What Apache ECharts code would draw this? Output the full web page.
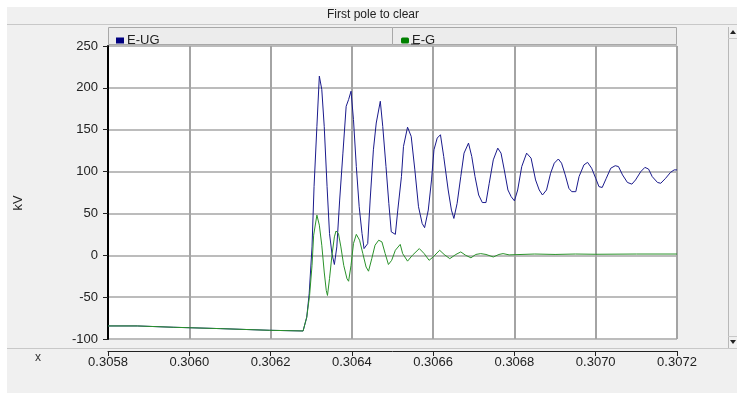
<!DOCTYPE html>
<html>
<head>
<meta charset="utf-8">
<script src="https://cdn.jsdelivr.net/npm/echarts@6/dist/echarts.min.js"></script>
<style>
  html, body { margin: 0; padding: 0; background: #ffffff; }
  #chart { width: 737px; height: 393px; }
</style>
</head>
<body>
<div id="chart"></div>
<script>
    // E-UG (blue) samples, time in s / value in kV
    var ugTime = [0.3058, 0.305872, 0.305874, 0.305962, 0.305964, 0.306076, 0.30608, 0.306197, 0.306201, 0.30628,
        0.306289, 0.306295, 0.306302, 0.306307, 0.306314, 0.30632, 0.306323, 0.306326, 0.306332, 0.306339,
        0.306345, 0.306351, 0.306357, 0.306363, 0.30637, 0.306378, 0.306386, 0.306392, 0.306398, 0.306404,
        0.306411, 0.306418, 0.306425, 0.30643, 0.306439, 0.306445, 0.306453, 0.30646, 0.30647, 0.306476,
        0.306484, 0.306491, 0.306497, 0.306507, 0.306513, 0.306522, 0.306527, 0.306537, 0.306546, 0.306555,
        0.306564, 0.306573, 0.306579, 0.306588, 0.306596, 0.306602, 0.30661, 0.306618, 0.306626, 0.306637,
        0.306645, 0.306651, 0.306659, 0.306668, 0.306676, 0.306687, 0.306695, 0.306703, 0.306712, 0.306721,
        0.30673, 0.306738, 0.306748, 0.306759, 0.306767, 0.306775, 0.306784, 0.306792, 0.3068, 0.306808,
        0.306818, 0.30683, 0.306841, 0.306852, 0.306861, 0.306869, 0.306879, 0.306889, 0.306898, 0.306908,
        0.306916, 0.306925, 0.306934, 0.306941, 0.306951, 0.306959, 0.306971, 0.30698, 0.30699, 0.307,
        0.307008, 0.307016, 0.307026, 0.307037, 0.307048, 0.307056, 0.307066, 0.307078, 0.307089, 0.307098,
        0.307111, 0.307121, 0.30713, 0.307139, 0.307152, 0.30716, 0.307172, 0.307184, 0.307193, 0.3072];
    var ugKv = [-84.4, -84.4, -86, -86, -87.6, -87.6, -89.6, -89.6, -90.4, -90.4,
        -74, -46, 10, 82, 154, 214, 216, 198, 154, 82,
        26, 2, -11, 10, 66, 122, 178, 186, 196, 162,
        106, 58, 26, 8, 14, 66, 126, 158, 184, 154,
        106, 62, 28, 25, 54, 94, 130, 153, 142, 102,
        58, 38, 33, 54, 90, 126, 140, 144, 118, 78,
        54, 44, 62, 94, 122, 134, 118, 94, 72, 63,
        63, 86, 114, 128, 122, 102, 78, 70, 65, 78,
        106, 122, 116, 90, 78, 72, 78, 98, 110, 115,
        110, 96, 80, 76, 76, 94, 108, 111, 104, 92,
        82, 81, 92, 104, 107, 106, 96, 87, 85, 90,
        100, 105, 103, 94, 87, 86, 92, 99, 102, 102];

    // E-G (green) samples
    var gTime = [0.3058, 0.305872, 0.305874, 0.305962, 0.305964, 0.306076, 0.30608, 0.306197, 0.306201, 0.30628,
        0.306289, 0.306296, 0.306302, 0.306306, 0.306314, 0.30632, 0.306326, 0.306332, 0.306337, 0.30634,
        0.306345, 0.306351, 0.306357, 0.306361, 0.306367, 0.306373, 0.30638, 0.306388, 0.306392, 0.306398,
        0.306404, 0.306411, 0.306419, 0.306427, 0.306435, 0.306441, 0.306449, 0.306457, 0.306466, 0.306474,
        0.306482, 0.30649, 0.306498, 0.306507, 0.306519, 0.306525, 0.306537, 0.306549, 0.306566, 0.306578,
        0.30659, 0.3066, 0.306616, 0.306627, 0.306641, 0.306656, 0.306668, 0.30668, 0.306693, 0.306705,
        0.306717, 0.30673, 0.306748, 0.306762, 0.306772, 0.306787, 0.30685, 0.3069, 0.30695, 0.307,
        0.3071, 0.3072];
    var gKv = [-84.4, -84.4, -86, -86, -87.6, -87.6, -89.6, -89.6, -90.4, -90.4,
        -74, -48, -12, 24, 48, 36, 12, -20, -42, -48,
        -28, 0, 22, 29, 26, 10, -12, -28, -31, -12,
        14, 25, 18, 2, -14, -19, -4, 12, 18, 16,
        2, -11, -6, 6, 13, 2, -7, 0, 8, 2,
        -6, -2, 6, 1, -4, 1, 4, 0, -3, 1,
        2, 1, -2, 1, 2, 0.5, 1.5, 1, 1.5, 1.2,
        1.5, 1.5];

    var xTicks = { min: 0.3058, max: 0.3072, step: 0.0002 };
    var yTicks = { min: -100, max: 250, step: 50 };

    function pairs(t, v) {
        var out = [];
        for (var i = 0; i < t.length; i++) { out.push([t[i], v[i]]); }
        return out;
    }

    var chart = echarts.init(document.getElementById('chart'));
    var font = 'Liberation Sans, Arial, sans-serif';

    var option = {
        animation: false,
        backgroundColor: '#ffffff',
        textStyle: { fontFamily: font },
        graphic: [
            // panel background
            { type: 'rect', z: -10, silent: true, shape: { x: 7, y: 7, width: 730, height: 386 }, style: { fill: '#f0f0f0' } },
            { type: 'line', z: -9, shape: { x1: 7, y1: 24.5, x2: 737, y2: 24.5 }, style: { stroke: '#c8c8c8', lineWidth: 1 } },
            { type: 'line', z: -9, shape: { x1: 7, y1: 348.5, x2: 737, y2: 348.5 }, style: { stroke: '#c8c8c8', lineWidth: 1 } },
            { type: 'text', style: { x: 373, y: 15, text: 'First pole to clear', fill: '#222', font: '12px ' + font, textAlign: 'center', textVerticalAlign: 'middle' } },
            // legend bar
            { type: 'rect', z: -8, shape: { x: 108.5, y: 27.5, width: 284, height: 17 }, style: { fill: '#ececec', stroke: '#a8a8a8', lineWidth: 1 } },
            { type: 'rect', z: -8, shape: { x: 392.5, y: 27.5, width: 284, height: 17 }, style: { fill: '#ececec', stroke: '#a8a8a8', lineWidth: 1 } },
            { type: 'line', z: 10, shape: { x1: 411, y1: 44, x2: 419, y2: 44 }, style: { stroke: '#333', lineWidth: 1 } },
            // right scroll bar
            { type: 'line', z: -8, shape: { x1: 728.5, y1: 27, x2: 728.5, y2: 348 }, style: { stroke: '#b8b8b8', lineWidth: 1 } },
            { type: 'line', z: -8, shape: { x1: 728, y1: 38.5, x2: 737, y2: 38.5 }, style: { stroke: '#c8c8c8', lineWidth: 1 } },
            { type: 'line', z: -8, shape: { x1: 728, y1: 336.5, x2: 737, y2: 336.5 }, style: { stroke: '#c8c8c8', lineWidth: 1 } },
            { type: 'polygon', shape: { points: [[733, 30], [736, 34], [730, 34]] }, style: { fill: '#222' } },
            { type: 'polygon', shape: { points: [[730, 340], [736, 340], [733, 344]] }, style: { fill: '#222' } },
            // axis names
            { type: 'text', style: { x: 38, y: 358, text: 'x', fill: '#333', font: '12px ' + font, textAlign: 'center', textVerticalAlign: 'middle' } },
            { type: 'text', x: 18, y: 203, rotation: Math.PI / 2, style: { x: 0, y: 0, text: 'kV', fill: '#222', font: '13px ' + font, textAlign: 'center', textVerticalAlign: 'middle' } }
        ],
        legend: [
            {
                data: ['E-UG'], left: 111, top: 29, itemWidth: 8, itemHeight: 6, icon: 'rect', itemGap: 4,
                textStyle: { fontSize: 13, color: '#222', fontFamily: font, padding: [0, 0, 0, -2] }
            },
            {
                data: ['E-G'], left: 396, top: 29, itemWidth: 8, itemHeight: 6, icon: 'roundRect', itemGap: 4,
                textStyle: { fontSize: 13, color: '#222', fontFamily: font, padding: [0, 0, 0, -2] }
            }
        ],
        grid: {
            left: 108, right: 60, top: 46, bottom: 54,
            show: true, backgroundColor: '#ffffff', borderColor: '#a8a8a8', borderWidth: 1
        },
        xAxis: {
            type: 'value',
            min: xTicks.min, max: xTicks.max, interval: xTicks.step,
            offset: 12,
            axisLine: { show: true, onZero: false, lineStyle: { color: '#222', width: 1 } },
            axisTick: { show: true, length: 5, lineStyle: { color: '#222' } },
            axisLabel: {
                margin: 5, fontSize: 13, color: '#222', fontFamily: font,
                formatter: function (v) { return v.toFixed(4); }
            },
            splitLine: { show: true, lineStyle: { color: '#a4a4a4', width: 2 } }
        },
        yAxis: {
            type: 'value',
            min: yTicks.min, max: yTicks.max, interval: yTicks.step,
            axisLine: { show: true, lineStyle: { color: '#000', width: 2 } },
            axisTick: { show: true, length: 5, lineStyle: { color: '#222' } },
            axisLabel: { margin: 10, fontSize: 13, color: '#222', fontFamily: font },
            splitLine: { show: true, lineStyle: { color: '#bcbcbc', width: 2 } }
        },
        series: [
            {
                name: 'E-UG', type: 'line', showSymbol: false,
                itemStyle: { color: '#000080' },
                lineStyle: { color: '#1a1a8c', width: 1 },
                data: pairs(ugTime, ugKv)
            },
            {
                name: 'E-G', type: 'line', showSymbol: false,
                itemStyle: { color: '#008000' },
                lineStyle: { color: '#2a922a', width: 1 },
                data: pairs(gTime, gKv)
            }
        ]
    };
    chart.setOption(option);
</script>
</body>
</html>
